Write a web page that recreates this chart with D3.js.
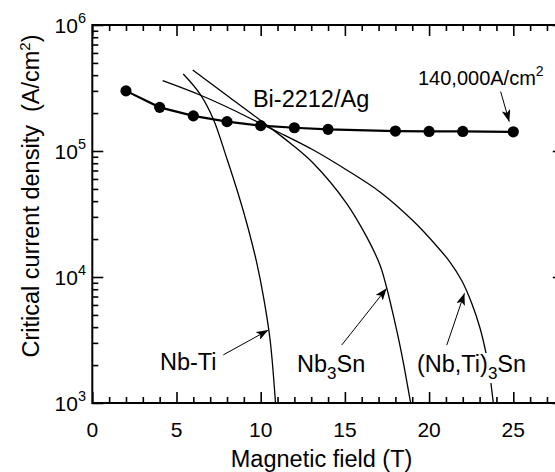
<!DOCTYPE html>
<html><head><meta charset="utf-8">
<script src="https://cdn.jsdelivr.net/npm/d3@7"></script>
<style>
body{margin:0;background:#fff}
svg{display:block}
text{font-family:"Liberation Sans",Arial,Helvetica,sans-serif;fill:#000;white-space:pre}
</style>
</head><body>
<svg id="c" width="555" height="472"></svg>
<script>
// ---- data ----
const biField = [2, 4, 6, 8, 10, 12, 14, 18, 20, 22, 25];
const biJc = [300000, 222000, 190000, 171000, 159000, 153000, 148500, 144000, 143000, 143000, 142000];

const nbtiField = [5.40, 6.40, 7.19, 7.98, 8.65, 9.25, 9.78, 10.20, 10.56, 10.88];
const nbtiJc = [408000, 283000, 179000, 87900, 46400, 24500, 12700, 6560, 3160, 1000];

const nb3snField = [5.962, 8.159, 10.356, 11.740, 13.124, 15.107, 16.295, 17.084, 17.500, 17.856, 18.213, 18.509, 18.747, 18.925];
const nb3snJc = [439000, 266000, 160800, 115700, 79900, 38300, 20800, 12450, 8030, 5090, 3110, 1970, 1315, 964];

const nbtisnField = [4.180, 6.395, 8.373, 9.958, 11.146, 13.124, 15.107, 17.084, 19.062, 20.451, 21.241, 21.954, 22.548, 23.023, 23.379, 23.617, 23.795, 23.884];
const nbtisnJc = [361300, 278200, 211500, 165900, 139000, 101800, 70700, 47300, 27800, 17620, 13150, 9300, 6110, 3940, 2490, 1638, 1056, 880];

const xTicksMajor = [0, 5, 10, 15, 20, 25];
const xTickLabels = ["0", "5", "10", "15", "20", "25"];
const yTicksMajor = [1e3, 1e4, 1e5, 1e6];
const yTickExp = ["3", "4", "5", "6"];

const xTitle = "Magnetic field (T)";
const yTitle = "Critical current density  (A/cm";

// annotations (data units)
const labelNames = ["Bi-2212/Ag", "140,000A/cm", "Nb-Ti", "Nb", "(Nb,Ti)"];
const labelX = [9.54, 19.34, 4.02, 12.16, 19.28];
const labelY = [223000, 334000, 1830, 1760, 1760];
const arrowX1 = [24.25, 7.78, 14.81, 21.05];
const arrowY1 = [296000, 2410, 2880, 2880];
const arrowX2 = [24.76, 10.45, 17.48, 22.10];
const arrowY2 = [171000, 3790, 8130, 7430];

// ---- chart ----
const svg = d3.select("#c");
const x = d3.scaleLinear().domain([0, 28]).range([92.3, 563.8]);
const y = d3.scaleLog().domain([1e3, 1e6]).range([403, 25]);

const x0 = x(0), x1 = x(28), yb = y(1e3), yt = y(1e6);

const defs = svg.append("defs");
defs.append("clipPath").attr("id", "clip")
  .append("rect").attr("x", x0).attr("y", yt).attr("width", x1 - x0).attr("height", yb - yt);

const arrowDef = defs.append("marker")
  .attr("id", "ah").attr("markerUnits", "userSpaceOnUse")
  .attr("markerWidth", 13).attr("markerHeight", 9)
  .attr("refX", 12).attr("refY", 4.5).attr("orient", "auto");
arrowDef.append("path").attr("d", "M0,0 L12,4.5 L0,9 L3,4.5 Z").attr("fill", "#000");

// minor tick values
const xMinor = d3.range(0, 29, 1).filter(v => v % 5 !== 0);
const yMinor = y.ticks().filter(v => !yTicksMajor.includes(v));

function styleAxis(g) {
  g.select(".domain").remove();
  g.selectAll(".tick line").attr("stroke", "#000").attr("stroke-width", 1.6);
  g.selectAll(".tick text").remove();
}

// bottom
svg.append("g").attr("transform", `translate(0,${yb})`)
  .call(d3.axisBottom(x).tickValues(xMinor).tickSize(-6).tickSizeOuter(0)).call(styleAxis);
svg.append("g").attr("transform", `translate(0,${yb})`)
  .call(d3.axisBottom(x).tickValues(xTicksMajor).tickSize(-11).tickSizeOuter(0)).call(styleAxis);
// top
svg.append("g").attr("transform", `translate(0,${yt})`)
  .call(d3.axisTop(x).tickValues(xMinor).tickSize(-6).tickSizeOuter(0)).call(styleAxis);
svg.append("g").attr("transform", `translate(0,${yt})`)
  .call(d3.axisTop(x).tickValues(xTicksMajor).tickSize(-11).tickSizeOuter(0)).call(styleAxis);
// left
svg.append("g").attr("transform", `translate(${x0},0)`)
  .call(d3.axisLeft(y).tickValues(yMinor).tickSize(-6).tickSizeOuter(0)).call(styleAxis);
svg.append("g").attr("transform", `translate(${x0},0)`)
  .call(d3.axisLeft(y).tickValues(yTicksMajor).tickSize(-11).tickSizeOuter(0)).call(styleAxis);
// right
svg.append("g").attr("transform", `translate(${x1},0)`)
  .call(d3.axisRight(y).tickValues(yMinor).tickSize(-6).tickSizeOuter(0)).call(styleAxis);
svg.append("g").attr("transform", `translate(${x1},0)`)
  .call(d3.axisRight(y).tickValues(yTicksMajor).tickSize(-11).tickSizeOuter(0)).call(styleAxis);

// frame
svg.append("rect").attr("x", x0).attr("y", yt).attr("width", x1 - x0).attr("height", yb - yt)
  .attr("fill", "none").attr("stroke", "#000").attr("stroke-width", 2);

// x tick labels
svg.append("g").selectAll("text").data(xTicksMajor).join("text")
  .attr("x", d => x(d)).attr("y", 437).attr("text-anchor", "middle")
  .attr("font-size", 21).text((d, i) => xTickLabels[i]);

// y tick labels
const yl = svg.append("g").selectAll("text").data(yTicksMajor).join("text")
  .attr("x", 86).attr("y", d => y(d) + 8).attr("text-anchor", "end").attr("font-size", 21);
yl.append("tspan").text("10");
yl.append("tspan").attr("dy", -10).attr("font-size", 14.5).text((d, i) => yTickExp[i]);

// axis titles
svg.append("text").attr("x", (x(0) + x(28)) / 2 - 6.5).attr("y", 467).attr("text-anchor", "middle")
  .attr("font-size", 23.5).text(xTitle);
const yt_ = svg.append("text").attr("transform", "translate(39,196) rotate(-90)")
  .attr("text-anchor", "middle").attr("font-size", 23.5);
yt_.append("tspan").text(yTitle);
yt_.append("tspan").attr("dy", -9).attr("font-size", 15).text("2");
yt_.append("tspan").attr("dy", 9).text(")");

// curves
const line = d3.line().x(d => x(d[0])).y(d => y(d[1])).curve(d3.curveCatmullRom.alpha(0.5));
const curves = [
  d3.zip(nbtiField, nbtiJc),
  d3.zip(nb3snField, nb3snJc),
  d3.zip(nbtisnField, nbtisnJc)
];
const cg = svg.append("g").attr("clip-path", "url(#clip)");
cg.selectAll("path.cv").data(curves).join("path").attr("class", "cv")
  .attr("d", line).attr("fill", "none").attr("stroke", "#000").attr("stroke-width", 1.3);

// Bi-2212 series
const bi = d3.zip(biField, biJc);
cg.append("path").attr("d", d3.line().x(d => x(d[0])).y(d => y(d[1]))(bi))
  .attr("fill", "none").attr("stroke", "#000").attr("stroke-width", 2.2);
cg.selectAll("circle").data(bi).join("circle")
  .attr("cx", d => x(d[0])).attr("cy", d => y(d[1])).attr("r", 5.6).attr("fill", "#000");

// arrows
svg.append("g").selectAll("line").data(arrowX1).join("line")
  .attr("x1", d => x(d)).attr("y1", (d, i) => y(arrowY1[i]))
  .attr("x2", (d, i) => x(arrowX2[i])).attr("y2", (d, i) => y(arrowY2[i]))
  .attr("stroke", "#000").attr("stroke-width", 1).attr("marker-end", "url(#ah)");

// labels
const lg = svg.append("g");
lg.append("text").attr("x", x(labelX[0])).attr("y", y(labelY[0])).attr("font-size", 23.5).text(labelNames[0]);
const t1 = lg.append("text").attr("x", x(labelX[1])).attr("y", y(labelY[1])).attr("font-size", 20);
t1.append("tspan").text(labelNames[1]);
t1.append("tspan").attr("dy", -9).attr("font-size", 14).text("2");
lg.append("text").attr("x", x(labelX[2])).attr("y", y(labelY[2])).attr("font-size", 23.5).text(labelNames[2]);
const t3 = lg.append("text").attr("x", x(labelX[3])).attr("y", y(labelY[3])).attr("font-size", 23.5);
t3.append("tspan").text(labelNames[3]);
t3.append("tspan").attr("dy", 7).attr("font-size", 17).text("3");
t3.append("tspan").attr("dy", -7).text("Sn");
const g4 = lg.append("g");
const bg4 = g4.append("rect").attr("fill", "#fff");
const t4 = g4.append("text").attr("x", x(labelX[4])).attr("y", y(labelY[4])).attr("font-size", 23.5);
t4.append("tspan").text(labelNames[4]);
t4.append("tspan").attr("dy", 7).attr("font-size", 17).text("3");
t4.append("tspan").attr("dy", -7).text("Sn");
const bb = t4.node().getBBox();
bg4.attr("x", bb.x).attr("y", bb.y + 2).attr("width", bb.width).attr("height", bb.height - 2);
</script>
</body></html>
